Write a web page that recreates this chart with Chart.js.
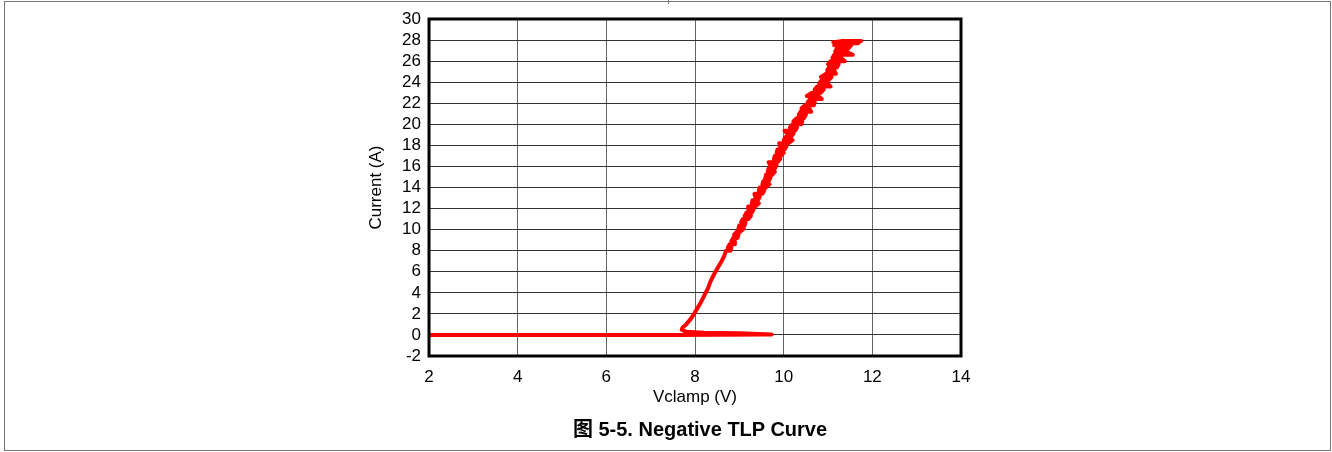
<!DOCTYPE html>
<html>
<head>
<meta charset="utf-8">
<script src="https://cdn.jsdelivr.net/npm/chart.js@4.4.1/dist/chart.umd.min.js"></script>
<style>
  body { margin: 0; background: #fff; }
  #wrap { position: relative; width: 1332px; height: 452px; overflow: hidden; }
  #frame { position: absolute; left: 4px; top: 1px; width: 1325px; height: 448px; border: 1px solid #777; }
  #notch { position: absolute; left: 668px; top: 0; width: 1px; height: 4px; background: #777; }
  #chart { position: absolute; left: 0; top: 0; }
  #caption {
    position: absolute; left: 0; width: 1400px; top: 413px; text-align: center;
    font: bold 20px "Liberation Sans", "Noto Sans CJK SC", sans-serif; color: #000;
  }
</style>
</head>
<body>
<div id="wrap">
  <div id="frame"></div>
  <div id="notch"></div>
  <canvas id="chart" width="1332" height="452"></canvas>
  <div id="caption">图 5-5. Negative TLP Curve</div>
</div>
<script>
// Negative TLP curve
// low-current part: leakage line, snapback, smooth rise up to ~8 A
const vclampLow = [
  2.0, 4.0, 6.0, 7.6, 8.5, 9.73, 9.0, 8.2, 7.8, 7.7, 7.72, 7.8,
  7.9, 7.98, 8.05, 8.12, 8.18, 8.24, 8.30, 8.34, 8.40, 8.46, 8.53, 8.60, 8.66
];
const currentLow = [
  0.0, 0.0, 0.0, 0.0, 0.02, 0.05, 0.15, 0.2, 0.3, 0.5, 0.7, 1.0,
  1.5, 2.0, 2.5, 3.0, 3.5, 4.0, 4.5, 5.0, 5.5, 6.0, 6.5, 7.0, 7.5
];
// high-current part: noisy band, two voltage readings per current level
const currentHigh = [
  8.0, 8.3, 8.6, 8.9, 9.2, 9.5, 9.8, 10.1, 10.4, 10.7, 11.0, 11.3, 11.6, 11.9,
  12.2, 12.5, 12.8, 13.1, 13.4, 13.7, 14.0, 14.3, 14.6, 14.9, 15.2, 15.5, 15.8,
  16.1, 16.4, 16.7, 17.0, 17.3, 17.6, 17.9, 18.2, 18.5, 18.8, 19.1, 19.4, 19.7,
  20.0, 20.3, 20.6, 20.9, 21.2, 21.5, 21.8, 22.1, 22.4, 22.7, 23.0, 23.3, 23.6,
  23.9, 24.2, 24.5, 24.8, 25.1, 25.4, 25.7, 26.0, 26.3, 26.6, 26.9, 27.2, 27.5,
  27.7, 27.8, 27.9
];
const vclampHighA = [
  8.70, 8.82, 8.78, 8.90, 8.86, 8.98, 8.94, 9.10, 9.00, 9.14, 9.08, 9.26, 9.16, 9.32,
  9.20, 9.44, 9.30, 9.46, 9.34, 9.56, 9.46, 9.68, 9.54, 9.70, 9.60, 9.80, 9.66,
  9.84, 9.66, 9.92, 9.80, 10.00, 9.86, 10.06, 9.90, 10.20, 10.04, 10.22, 10.02, 10.30,
  10.20, 10.42, 10.30, 10.50, 10.38, 10.58, 10.48, 10.70, 10.60, 10.78, 10.64, 10.90, 10.76,
  10.98, 10.86, 11.08, 10.96, 11.14, 11.02, 11.24, 11.06, 11.30, 11.14, 11.40, 11.20, 11.52,
  11.20, 11.70, 11.30
];
const vclampHighB = [
  8.80, 8.74, 8.88, 8.82, 8.96, 8.88, 9.02, 8.98, 9.12, 9.04, 9.20, 9.12, 9.28, 9.20,
  9.36, 9.28, 9.42, 9.36, 9.52, 9.44, 9.60, 9.52, 9.66, 9.58, 9.74, 9.64, 9.80,
  9.70, 9.86, 9.78, 9.94, 9.84, 10.02, 9.92, 10.10, 10.00, 10.16, 10.08, 10.26, 10.14,
  10.40, 10.22, 10.46, 10.34, 10.62, 10.40, 10.68, 10.54, 10.86, 10.52, 10.84, 10.70, 11.06,
  10.80, 11.02, 10.84, 11.18, 10.98, 11.20, 11.00, 11.38, 11.10, 11.56, 11.16, 11.46, 11.14,
  11.68, 11.12, 11.75
];
const xTicks = { min: 2, max: 14, step: 2 };
const yTicks = { min: -2, max: 30, step: 2 };

const points = vclampLow.map((v, i) => ({ x: v, y: currentLow[i] }));
currentHigh.forEach((c, i) => {
  points.push({ x: vclampHighA[i], y: c });
  points.push({ x: vclampHighB[i], y: c });
});

// thick black box around the plot area
const plotBox = {
  id: 'plotBox',
  afterDraw(chart) {
    const { ctx, chartArea: a } = chart;
    ctx.save();
    ctx.strokeStyle = '#000';
    ctx.lineWidth = 3;
    ctx.strokeRect(a.left, a.top, a.right - a.left, a.bottom - a.top);
    ctx.restore();
  }
};

const tickFont = { family: '"Liberation Sans", Arial, sans-serif', size: 17 };

new Chart(document.getElementById('chart').getContext('2d'), {
  type: 'scatter',
  data: {
    datasets: [{
      data: points,
      showLine: true,
      borderColor: '#ff0000',
      backgroundColor: '#ff0000',
      borderWidth: 4,
      borderJoinStyle: 'round',
      borderCapStyle: 'round',
      pointRadius: 0,
      tension: 0
    }]
  },
  options: {
    responsive: false,
    animation: false,
    layout: { padding: { left: 366, right: 371, top: 19, bottom: 44 } },
    plugins: { legend: { display: false }, tooltip: { enabled: false } },
    scales: {
      x: {
        type: 'linear',
        min: xTicks.min,
        max: xTicks.max,
        ticks: { stepSize: xTicks.step, color: '#000', font: tickFont, padding: 11, autoSkip: false },
        grid: { color: '#666', drawTicks: false },
        border: { display: false },
        title: { display: true, text: 'Vclamp (V)', color: '#000', font: tickFont, padding: 0 },
        afterFit: s => { s.height = 52; }
      },
      y: {
        type: 'linear',
        min: yTicks.min,
        max: yTicks.max,
        ticks: { stepSize: yTicks.step, color: '#000', font: tickFont, padding: 8, autoSkip: false },
        grid: { color: '#333', drawTicks: false },
        border: { display: false },
        title: { display: true, text: 'Current (A)', color: '#000', font: tickFont, padding: 0 },
        afterFit: s => { s.width = 63; }
      }
    }
  },
  plugins: [plotBox]
});
</script>
</body>
</html>
